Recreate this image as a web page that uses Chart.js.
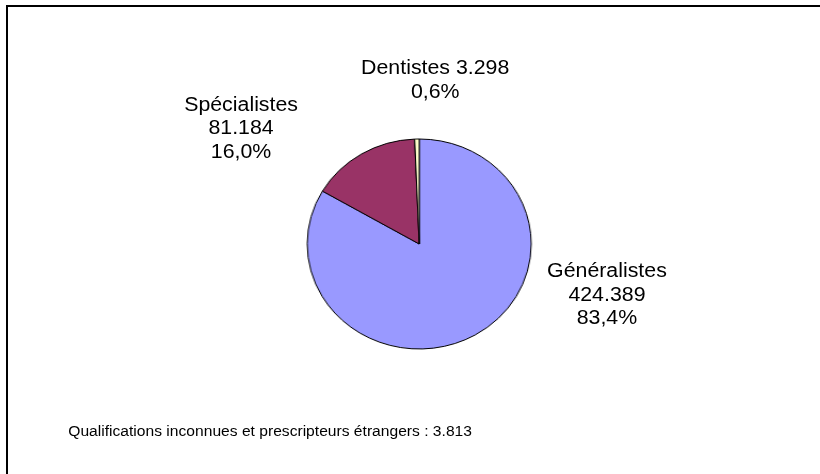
<!DOCTYPE html>
<html>
<head>
<meta charset="utf-8">
<script src="https://cdn.jsdelivr.net/npm/chart.js@4/dist/chart.umd.min.js"></script>
<style>
  html, body { margin: 0; padding: 0; background: #fff; overflow: hidden; }
  body { width: 820px; height: 474px; position: relative; font-family: "Liberation Sans", Arial, sans-serif; color: #000; }
  .frame { position: absolute; left: 6px; top: 5px; width: 830px; height: 480px; border-top: 2px solid #000; border-left: 2px solid #000; }
  .stage { position: absolute; left: 0; top: 0; width: 769px; height: 474px; transform: scaleX(1.0667); transform-origin: 0 0; }
  .pie-box { position: absolute; left: 278px; top: 129px; width: 230px; height: 230px; }
  .lbl { position: absolute; font-size: 20px; text-align: center; white-space: nowrap; transform: translateX(-50%); }
  .note { position: absolute; left: 64px; top: 423px; font-size: 14.65px; white-space: nowrap; }
</style>
</head>
<body>
<div class="frame"></div>
<div class="stage">
  <div class="pie-box"><canvas id="pieChart"></canvas></div>
  <div class="lbl" id="lbl0" style="left:569px; top:259px; line-height:23.7px"></div>
  <div class="lbl" id="lbl1" style="left:226px; top:93px; line-height:23.3px"></div>
  <div class="lbl" id="lbl2" style="left:408px; top:55px; line-height:24px"></div>
  <div class="note" id="note"></div>
</div>
<script>
const categories = ['Généralistes', 'Spécialistes', 'Dentistes'];
const values = [424389, 81184, 3298];
const colors = ['#9999FF', '#993366', '#FFFFCC'];
const noteLabel = 'Qualifications inconnues et prescripteurs étrangers';
const noteValue = 3813;

function formatNumber(n) {
  return String(n).replace(/\B(?=(\d{3})+(?!\d))/g, '.');
}

function formatPercent(v, total) {
  return (v / total * 100).toFixed(1).replace('.', ',') + '%';
}

const total = values.reduce((a, b) => a + b, 0);

// labels: dentistes keeps name and value on one line
categories.forEach((c, i) => {
  const el = document.getElementById('lbl' + i);
  const pct = formatPercent(values[i], total);
  if (i === 2) {
    el.innerHTML = `${c} ${formatNumber(values[i])}<br>${pct}`;
  } else {
    el.innerHTML = `${c}<br>${formatNumber(values[i])}<br>${pct}`;
  }
});
document.getElementById('note').textContent = `${noteLabel} : ${formatNumber(noteValue)}`;

new Chart(document.getElementById('pieChart'), {
  type: 'pie',
  data: {
    labels: categories,
    datasets: [
      {
        data: values,
        backgroundColor: colors,
        borderColor: '#000',
        borderWidth: 1,
        radius: 105
      }
    ]
  },
  options: {
    responsive: true,
    maintainAspectRatio: false,
    animation: false,
    layout: { padding: 0 },
    plugins: { legend: { display: false }, tooltip: { enabled: false } }
  }
});
</script>
</body>
</html>
